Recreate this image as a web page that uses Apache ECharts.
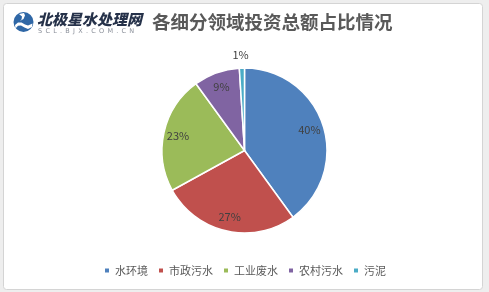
<!DOCTYPE html>
<html>
<head>
<meta charset="utf-8">
<script src="https://cdn.jsdelivr.net/npm/echarts@6/dist/echarts.min.js"></script>
<style>
  html, body { margin: 0; padding: 0; background: #eeeeee; }
  #chart { width: 489px; height: 292px; }
</style>
</head>
<body>
<div id="chart"></div>
<script>
// Investment share by sub-sector (percent)
const categories = ['水环境', '市政污水', '工业废水', '农村污水', '污泥'];
const shares = [40, 27, 23, 9, 1];
const colors = ['#4F81BD', '#C0504D', '#9BBB59', '#8064A2', '#4BACC6'];
const titleText = '各细分领域投资总额占比情况';

const FONT = '"Noto Sans CJK SC", "Noto Sans", sans-serif';
const CENTER = [244.5, 150.5];
const R = 82.5;
const SMALL = 5; // slices below this get their label outside

const chart = echarts.init(document.getElementById('chart'), null, { renderer: 'canvas' });

// Filled slices; only tiny slices carry an outside label here
const sliceData = categories.map((name, i) => ({
  name,
  value: shares[i],
  label: shares[i] < SMALL
    ? { show: true, position: 'outside', formatter: '{c}%', color: '#404040',
        fontSize: 11, fontFamily: FONT, offset: [12, -8] }
    : { show: false }
}));

// Transparent ring used only to place the inside labels near the rim
const labelData = categories.map((name, i) => ({
  name,
  value: shares[i],
  label: { show: shares[i] >= SMALL }
}));

chart.setOption({
  backgroundColor: 'transparent',
  animation: false,
  color: colors,
  graphic: [
    {
      type: 'rect',
      shape: { x: 3.5, y: 3.5, width: 479, height: 286, r: 3 },
      style: { fill: '#ffffff', stroke: '#d4d4d4', lineWidth: 1 },
      z: -10
    },
    // logo badge
    {
      type: 'circle',
      shape: { cx: 23.5, cy: 22, r: 10 },
      style: { fill: '#2f67a6' }
    },
    {
      type: 'polygon',
      shape: {
        points: [[15, 25], [18, 22.5], [21.5, 22.5], [25, 24.5], [28, 25.5], [32.5, 23.5],
                 [32, 27], [28, 29], [24.5, 27.5], [21, 25.5], [18, 25.8], [15.5, 28.5]]
      },
      style: { fill: '#ffffff' }
    },
    {
      type: 'polygon',
      shape: {
        points: [[19, 14], [22, 16.5], [21.5, 19.5], [20, 21], [23.5, 19], [25, 15.5], [24, 13]]
      },
      style: { fill: '#ffffff' }
    },
    {
      type: 'text',
      left: 37, top: 12,
      style: {
        text: '北极星水处理网',
        font: 'italic 900 15px ' + FONT,
        fill: '#26324a'
      }
    },
    {
      type: 'text',
      left: 38, top: 28,
      style: {
        text: 'S\u2002C\u2002L\u2002.\u2002B\u2002J\u2002X\u2002.\u2002C\u2002O\u2002M\u2002.\u2002C\u2002N',
        font: '6.5px "DejaVu Sans", sans-serif',
        fill: '#8a8f99'
      }
    },
    {
      type: 'text',
      left: 152, top: 13,
      style: {
        text: titleText,
        font: 'bold 18.5px ' + FONT,
        fill: '#595959'
      }
    }
  ],
  legend: {
    bottom: 11,
    left: 'center',
    icon: 'rect',
    itemWidth: 6,
    itemHeight: 6,
    itemGap: 9,
    textStyle: { color: '#595959', fontSize: 11, fontFamily: FONT },
    data: categories
  },
  series: [
    {
      type: 'pie',
      center: CENTER,
      radius: [0, R],
      startAngle: 90,
      clockwise: true,
      avoidLabelOverlap: false,
      itemStyle: { borderColor: '#ffffff', borderWidth: 1.5 },
      labelLine: { show: false, length: 5, length2: 0 },
      emphasis: { disabled: true },
      data: sliceData
    },
    {
      type: 'pie',
      center: CENTER,
      radius: [R * 0.58, R],
      startAngle: 90,
      clockwise: true,
      silent: true,
      avoidLabelOverlap: false,
      itemStyle: { color: 'rgba(0,0,0,0)', borderWidth: 0 },
      label: {
        position: 'inside',
        formatter: '{c}%',
        color: '#404040',
        fontSize: 11,
        fontFamily: FONT
      },
      labelLine: { show: false },
      emphasis: { disabled: true },
      data: labelData
    }
  ]
});
</script>
</body>
</html>
